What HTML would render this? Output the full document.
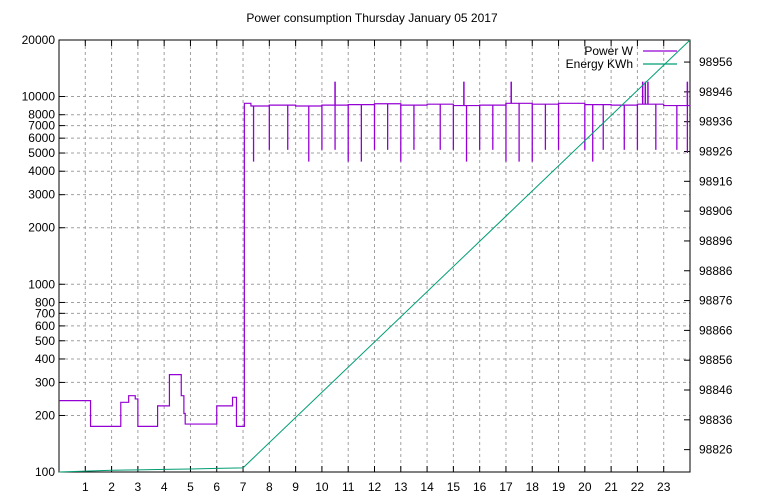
<!DOCTYPE html>
<html><head><meta charset="utf-8"><style>
body{margin:0;background:#fff}
svg{display:block;font-family:"Liberation Sans",sans-serif;font-size:12px}
</style></head><body>
<svg id="c" width="768" height="500">
<text x="372" y="22" text-anchor="middle">Power consumption Thursday January 05 2017</text>
</svg>
<script>
const yTicks=[100,200,300,400,500,600,700,800,1000,2000,3000,4000,5000,6000,7000,8000,10000,20000];
const y2Ticks=[98826,98836,98846,98856,98866,98876,98886,98896,98906,98916,98926,98936,98946,98956];
const xTicks=[1,2,3,4,5,6,7,8,9,10,11,12,13,14,15,16,17,18,19,20,21,22,23];
const nightTimes=[0,1.2,2.35,2.65,2.9,3.0,3.75,4.2,4.65,4.75,4.8,6.0,6.6,6.75,7.05];
const nightVals=[240,175,235,255,245,175,225,330,255,205,180,225,250,175,9200];
const dayTimes=[7.05,7.3,8,9,10,11,12,13,14,15,16,17,18,19,20,21,22,23,24];
const dayVals=[9200,8900,9000,8900,9000,9050,9150,9000,9100,8950,9000,9200,9100,9200,9050,9000,9100,8950,9000];
const dipTimes=[7.4,8.0,8.7,9.5,10.0,10.5,11.0,11.5,12.0,12.5,13.0,13.5,14.5,15.0,15.5,16.0,16.5,17.0,17.5,18.0,18.5,19.0,20.0,20.3,20.7,21.5,22.0,22.7,23.5,23.9];
const dipVals=[4500,5200,5200,4500,5200,5200,4500,4500,5200,5200,4500,5200,5200,5200,4500,5200,5200,4500,4500,4500,5200,5200,5200,4500,5200,5200,5200,5200,5200,5000];
const peakTimes=[10.5,15.4,17.2,22.2,22.3,22.4,23.9];
const peakVals=[12000,12000,12000,12000,12000,12000,12000];
const energyTimes=[0,1,2,3,4,5,6,7,24];
const energyVals=[98818.5,98818.8,98819.1,98819.2,98819.4,98819.5,98819.7,98819.9,98963.4];

const L=59,R=690,T=40,B=472;
const X=h=>L+(R-L)*h/24;
const Y=v=>B-(B-T)*(Math.log10(v)-2)/(Math.log10(20000)-2);
const Y2=v=>B-(B-T)*(v-98818.5)/(98963.4-98818.5);
const svg=document.getElementById('c');
const NS='http://www.w3.org/2000/svg';
function mk(t,a,txt){const e=document.createElementNS(NS,t);for(const k in a)e.setAttribute(k,a[k]);if(txt!==undefined)e.textContent=txt;svg.appendChild(e);return e;}
yTicks.forEach(v=>{
 const g=mk('line',{x1:L,x2:R,y1:Y(v),y2:Y(v),stroke:'#a0a0a0','stroke-dasharray':'3,3'});
 
 
 const t=mk('text',{x:L-4,y:Y(v)+4,'text-anchor':'end'},String(v));
 
 
 mk('line',{x1:L,x2:L+6,y1:Y(v),y2:Y(v),stroke:'#000'});
});
xTicks.forEach(h=>{
 const g=mk('line',{x1:X(h),x2:X(h),y1:T,y2:B,stroke:'#a0a0a0','stroke-dasharray':'3,3'});
 
 
 const t=mk('text',{x:X(h),y:B+19,'text-anchor':'middle'},String(h));
 
 
 mk('line',{x1:X(h),x2:X(h),y1:B,y2:B-6,stroke:'#000'});
 mk('line',{x1:X(h),x2:X(h),y1:T,y2:T+6,stroke:'#000'});
});
y2Ticks.forEach(v=>{
 const t=mk('text',{x:R+9,y:Y2(v)+4},String(v));
 
 
 mk('line',{x1:R,x2:R-6,y1:Y2(v),y2:Y2(v),stroke:'#000'});
});
const fr=mk('rect',{x:L,y:T,width:R-L,height:B-T,fill:'none',stroke:'#000'});


let d='';
nightTimes.forEach((t,i)=>{const x=X(t),y=Y(nightVals[i]);d+=(i?'H'+x+'V'+y:'M'+x+','+y);});
dayTimes.forEach((t,i)=>{d+='H'+X(t)+'V'+Y(dayVals[i]);});
const p=mk('path',{d:d,fill:'none',stroke:'#9400d3','stroke-width':1.2});


function base(t){let v=dayVals[0];dayTimes.forEach((tt,i)=>{if(tt<=t)v=dayVals[i];});return v;}
dipTimes.forEach((t,i)=>{
 const l=mk('line',{x1:X(t),x2:X(t),y1:Y(base(t)),y2:Y(dipVals[i]),stroke:'#9400d3','stroke-width':1.3});
 
 
});
peakTimes.forEach((t,i)=>{
 const l=mk('line',{x1:X(t),x2:X(t),y1:Y(base(t)),y2:Y(peakVals[i]),stroke:'#9400d3','stroke-width':1.5});
 
 
});
const e=mk('polyline',{points:energyTimes.map((t,i)=>X(t)+','+Y2(energyVals[i])).join(' '),fill:'none',stroke:'#009e73','stroke-width':1});


const t1=mk('text',{x:633,y:55,'text-anchor':'end'},'Power W');


const l1=mk('line',{x1:643,x2:677,y1:51,y2:51,stroke:'#9400d3','stroke-width':1.2});


const t2=mk('text',{x:633,y:68,'text-anchor':'end'},'Energy KWh');


const l2=mk('line',{x1:643,x2:677,y1:64,y2:64,stroke:'#009e73','stroke-width':1.2});


</script>
</body></html>
